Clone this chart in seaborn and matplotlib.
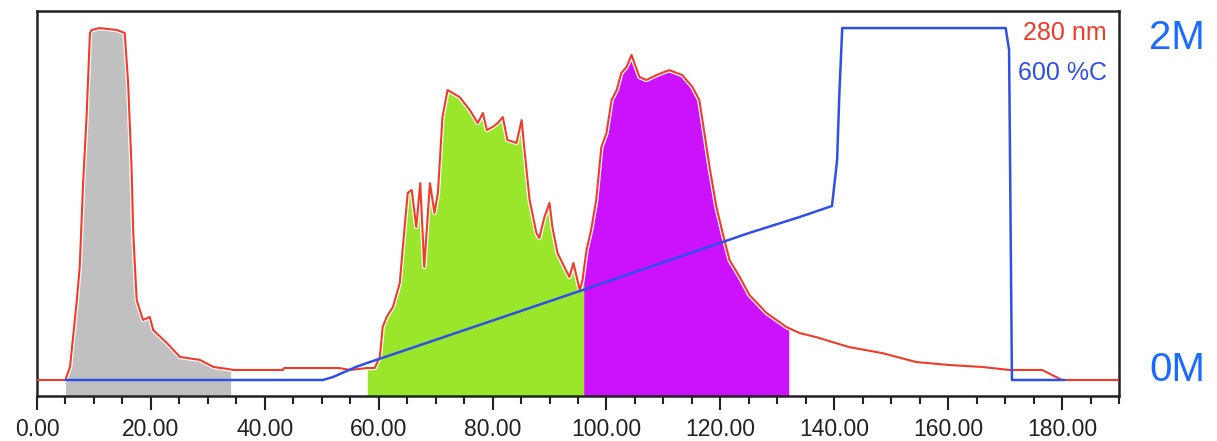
import numpy as np
import pandas as pd
import matplotlib
matplotlib.use("Agg")
import matplotlib.pyplot as plt
import seaborn as sns
from matplotlib.ticker import MultipleLocator, FormatStrFormatter

# ---- data (time in min; signals in chart units, blue in M) ----
uv_time = [0, 5.0, 5.2, 5.8, 7.0, 7.5, 8.1, 8.7, 9.3, 9.6, 11.0, 14.0, 15.4, 16.0, 16.6,
           16.9, 17.5, 18.6, 19.8, 20.4, 22.8, 25.1, 28.6, 31.0, 34.0, 34.4, 43.2, 43.4,
           53.0, 55.0, 58.0, 59.3, 60.2, 60.7, 61.4, 62.5, 63.7, 64.2, 65.1, 65.8, 66.6,
           67.3, 68.0, 69.0, 69.8, 70.4, 71.2, 72.1, 74.2, 76.0, 77.4, 78.3, 79.0, 80.0,
           80.9, 81.8, 82.6, 84.2, 85.1, 85.6, 86.5, 87.7, 88.2, 89.1, 90.0, 90.5, 91.4,
           92.6, 93.5, 94.2, 95.3, 95.8, 96.0, 96.5, 97.3, 98.2, 99.1, 100.0, 100.9, 101.8,
           102.6, 103.5, 104.4, 104.9, 105.8, 107.0, 108.8, 111.0, 113.3, 115.1, 116.3,
           117.2, 118.1, 119.3, 120.4, 121.6, 123.3, 125.1, 128.1, 131.6, 132.0, 133.9,
           136.8, 142.6, 148.4, 154.4, 160.2, 166.0, 170.7, 176.5, 180.0, 190.0]
uv_signal = [0.000, 0.000, 0.020, 0.074, 0.455, 0.642, 1.119, 1.494, 1.972, 1.989, 2.000,
             1.989, 1.972, 1.688, 1.210, 0.835, 0.455, 0.341, 0.358, 0.284, 0.210, 0.131,
             0.114, 0.074, 0.060, 0.057, 0.057, 0.068, 0.068, 0.057, 0.068, 0.068, 0.131,
             0.301, 0.358, 0.415, 0.551, 0.739, 1.063, 1.080, 0.869, 1.119, 0.642, 1.119,
             0.949, 1.063, 1.494, 1.648, 1.608, 1.534, 1.460, 1.517, 1.420, 1.438, 1.460,
             1.494, 1.364, 1.347, 1.477, 1.307, 1.023, 0.835, 0.807, 0.926, 1.006, 0.869,
             0.722, 0.642, 0.585, 0.665, 0.511, 0.568, 0.620, 0.739, 0.852, 1.023, 1.324,
             1.403, 1.591, 1.648, 1.744, 1.778, 1.847, 1.801, 1.722, 1.705, 1.733, 1.761,
             1.733, 1.665, 1.591, 1.403, 1.210, 0.983, 0.835, 0.682, 0.591, 0.483, 0.381,
             0.301, 0.295, 0.267, 0.244, 0.187, 0.153, 0.102, 0.085, 0.074, 0.057, 0.057,
             0.000, 0.000]

salt_time = [5.0, 50.2, 52.0, 56.0, 58.0, 63.7, 95.8, 125.0, 133.9, 139.6, 140.5, 140.9,
             141.4, 170.1, 170.7, 171.2, 180.4]
salt_conc = [0.000, 0.000, 0.017, 0.074, 0.097, 0.159, 0.511, 0.835, 0.926, 0.989, 1.250,
             1.631, 2.000, 2.000, 1.875, 0.000, 0.000]

fractions = [(5.0, 34.0, "#c0c0c0"), (58.0, 96.0, "#99e62a"), (96.0, 132.0, "#cc11fb")]
x_ticks_major = 20
x_ticks_minor = 5

# ---- figure ----
sns.set_theme(style="white")
plt.rcParams["font.family"] = ["Liberation Sans Narrow", "Liberation Sans", "DejaVu Sans"]

fig = plt.figure(figsize=(12.17, 4.41), dpi=100)
ax = fig.add_axes([37 / 1217, 45 / 441, (1119 - 37) / 1217, (396 - 11) / 441])
ymin, ymax = -0.091, 2.097
ax.set_xlim(0, 190)
ax.set_ylim(ymin, ymax)

t = np.array(uv_time)
s = np.array(uv_signal)
for a, b, col in fractions:
    m = (t >= a) & (t <= b)
    ax.fill_between(t[m], ymin, s[m], color=col, linewidth=0, zorder=1)

uv_df = pd.DataFrame({"time": uv_time, "signal": uv_signal})
salt_df = pd.DataFrame({"time": salt_time, "conc": salt_conc})

sns.lineplot(data=uv_df, x="time", y="signal", ax=ax, color="white", lw=3.2,
             estimator=None, sort=False, zorder=2)
sns.lineplot(data=uv_df, x="time", y="signal", ax=ax, color="#f03a2a", lw=1.5,
             estimator=None, sort=False, zorder=3)
sns.lineplot(data=salt_df, x="time", y="conc", ax=ax, color="#2e4fe8", lw=1.8,
             estimator=None, sort=False, zorder=4)

ax.set_xlabel("")
ax.set_ylabel("")
ax.set_yticks([])
ax.xaxis.set_major_locator(MultipleLocator(x_ticks_major))
ax.xaxis.set_minor_locator(MultipleLocator(x_ticks_minor))
ax.xaxis.set_major_formatter(FormatStrFormatter("%.2f"))
ax.tick_params(axis="x", which="major", bottom=True, direction="out", length=10,
               width=1.5, color="#222222", labelsize=16.5, pad=6, labelcolor="#222222")
ax.tick_params(axis="x", which="minor", bottom=True, direction="out", length=6,
               width=1.5, color="#222222")
for sp in ax.spines.values():
    sp.set_visible(True)
    sp.set_color("#222222")
    sp.set_linewidth(1.8)

ax.text(0.989, 0.943, "280 nm", transform=ax.transAxes, ha="right", va="center",
        color="#f03a2a", fontsize=18)
ax.text(0.989, 0.839, "600 %C", transform=ax.transAxes, ha="right", va="center",
        color="#2e4fe8", fontsize=18)
ax.text(1.028, 0.93, "2M", transform=ax.transAxes, ha="left", va="center",
        color="#1a6bff", fontsize=29, family=["Liberation Sans", "DejaVu Sans"])
ax.text(1.028, 0.068, "0M", transform=ax.transAxes, ha="left", va="center",
        color="#1a6bff", fontsize=29, family=["Liberation Sans", "DejaVu Sans"])

fig.savefig("out.png", dpi=100)
